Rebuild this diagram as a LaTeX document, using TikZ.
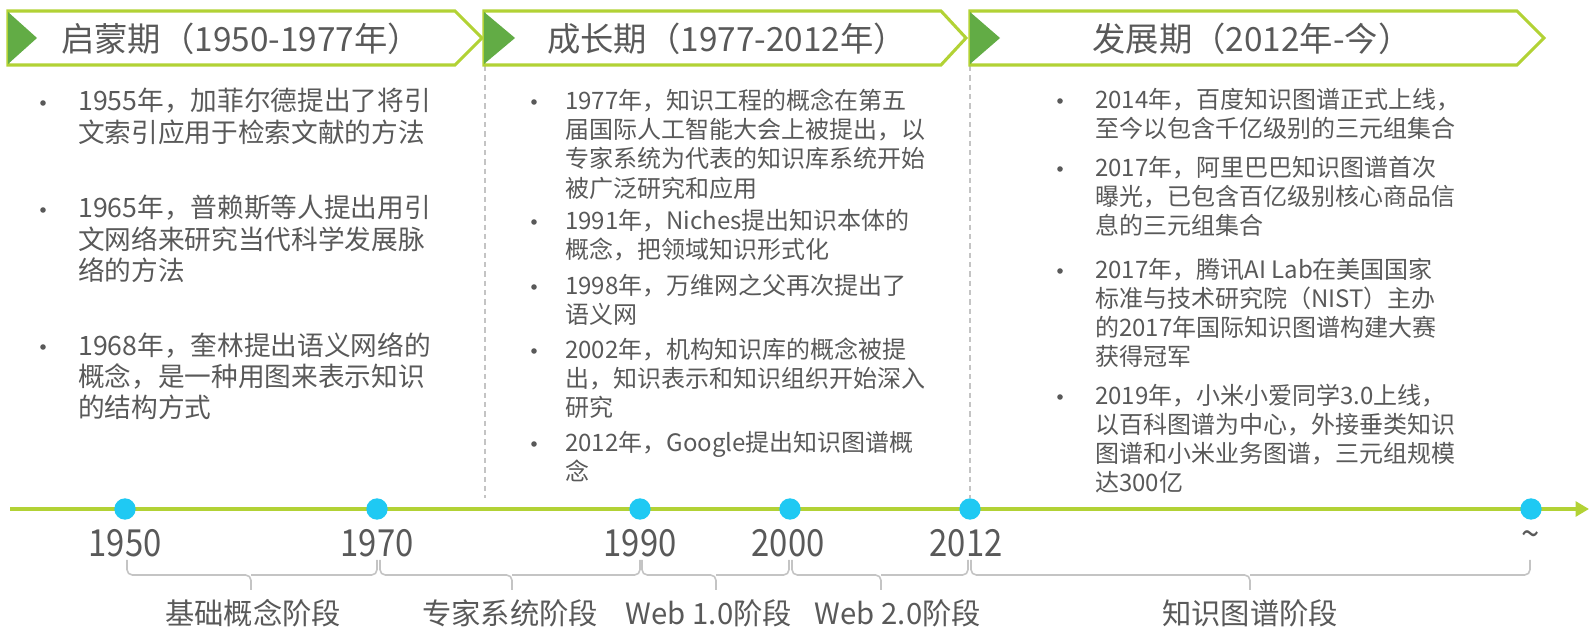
\documentclass[tikz,border=0pt]{standalone}
\usepackage{fontspec}
\setmainfont{Noto Sans CJK SC}
\usepackage{tikz}
\usetikzlibrary{arrows.meta}

\definecolor{lgreen}{HTML}{B2D235}
\definecolor{dgreen}{HTML}{62AC45}
\definecolor{dotblue}{HTML}{1FC9F3}
\definecolor{txtgray}{HTML}{595959}
\definecolor{linegray}{HTML}{C4C4C4}

\tikzset{
  banner/.style={draw=lgreen, line width=2.3pt, fill=white},
  flag/.style={fill=dgreen},
  title/.style={text=txtgray, inner sep=0pt, font=\fontsize{25}{29}\selectfont},
  itemL/.style={anchor=north west, align=left, inner sep=0pt, text=txtgray, font=\fontsize{20}{23.6}\selectfont},
  itemR/.style={anchor=north west, align=left, inner sep=0pt, text=txtgray, font=\fontsize{18}{21.8}\selectfont},
  bul/.style={circle, fill=txtgray, minimum size=4.2pt, inner sep=0pt},
  dot/.style={circle, fill=dotblue, minimum size=16pt, inner sep=0pt},
  year/.style={text=txtgray, inner sep=0pt, font=\fontsize{28}{32}\selectfont},
  stage/.style={text=txtgray, inner sep=0pt, font=\fontsize{22}{26}\selectfont},
  brk/.style={draw=linegray, line width=1.2pt, rounded corners=4pt},
  sep/.style={draw=linegray, line width=0.9pt, dash pattern=on 4pt off 3pt}
}

\begin{document}
\begin{tikzpicture}[x=0.75pt,y=0.75pt,yscale=-1,xscale=1]
\useasboundingbox (0,0) rectangle (1589,630);

% Separators
\draw[sep] (485,66) -- (485,498) ;
\draw[sep] (970,66) -- (970,498) ;

% Banners
\draw[banner] (8,11) -- (455,11) -- (482,38) -- (455,65) -- (8,65) -- cycle ;
\fill[flag] (8,12) -- (37,38) -- (8,64) -- cycle ;
\draw[banner] (484,11) -- (941,11) -- (966,38) -- (941,65) -- (484,65) -- cycle ;
\fill[flag] (484,12) -- (515,38) -- (484,64) -- cycle ;
\draw[banner] (970,11) -- (1517,11) -- (1544,38) -- (1517,65) -- (970,65) -- cycle ;
\fill[flag] (970,12) -- (1000,38) -- (970,64) -- cycle ;

% Titles
\node[title] (t1) at (241,39) {启蒙期（1950-1977年）};
\node[title] (t2) at (727,39) {成长期（1977-2012年）};
\node[title] (t3) at (1252,39) {发展期（2012年-今）};

% Left column
\node[bul] (b1) at (43,103) {};
\node[itemL] (i1) at (78,88) {1955年，加菲尔德提出了将引\\文索引应用于检索文献的方法};
\node[bul] (b2) at (43,210) {};
\node[itemL] (i2) at (78,195) {1965年，普赖斯等人提出用引\\文网络来研究当代科学发展脉\\络的方法};
\node[bul] (b3) at (43,347) {};
\node[itemL] (i3) at (78,332) {1968年，奎林提出语义网络的\\概念，是一种用图来表示知识\\的结构方式};

% Middle column
\node[bul] (b4) at (534,102) {};
\node[itemR] (i4) at (565,89) {1977年，知识工程的概念在第五\\届国际人工智能大会上被提出，以\\专家系统为代表的知识库系统开始\\被广泛研究和应用};
\node[bul] (b5) at (534,222) {};
\node[itemR] (i5) at (565,209) {1991年，Niches提出知识本体的\\概念，把领域知识形式化};
\node[bul] (b6) at (534,287) {};
\node[itemR] (i6) at (565,274) {1998年，万维网之父再次提出了\\语义网};
\node[bul] (b7) at (534,351) {};
\node[itemR] (i7) at (565,338) {2002年，机构知识库的概念被提\\出，知识表示和知识组织开始深入\\研究};
\node[bul] (b8) at (534,444) {};
\node[itemR] (i8) at (565,431) {2012年，Google提出知识图谱概\\念};

% Right column
\node[bul] (b9) at (1060,101) {};
\node[itemR] (i9) at (1095,88) {2014年，百度知识图谱正式上线，\\至今以包含千亿级别的三元组集合};
\node[bul] (b10) at (1060,169) {};
\node[itemR] (i10) at (1095,156) {2017年，阿里巴巴知识图谱首次\\曝光，已包含百亿级别核心商品信\\息的三元组集合};
\node[bul] (b11) at (1060,271) {};
\node[itemR] (i11) at (1095,258) {2017年，腾讯AI Lab在美国国家\\标准与技术研究院（NIST）主办\\的2017年国际知识图谱构建大赛\\获得冠军};
\node[bul] (b12) at (1060,397) {};
\node[itemR] (i12) at (1095,384) {2019年，小米小爱同学3.0上线，\\以百科图谱为中心，外接垂类知识\\图谱和小米业务图谱，三元组规模\\达300亿};

% Timeline
\coordinate (tl0) at (10,509);
\coordinate (tl1) at (1589,509);
\draw[lgreen, line width=3.6pt, -{Triangle[length=10pt,width=11pt]}] (tl0) -- (tl1) ;

\node[dot] (d1950) at (125,509) {};
\node[dot] (d1970) at (377,509) {};
\node[dot] (d1990) at (640,509) {};
\node[dot] (d2000) at (790,509) {};
\node[dot] (d2012) at (970,509) {};
\node[dot] (dnow) at (1531,509) {};

% Years
\node[year] (y1950) at (125,543) {\scalebox{0.88}[1]{1950}};
\node[year] (y1970) at (377,543) {\scalebox{0.88}[1]{1970}};
\node[year] (y1990) at (640,543) {\scalebox{0.88}[1]{1990}};
\node[year] (y2000) at (788,543) {\scalebox{0.88}[1]{2000}};
\node[year] (y2012) at (966,543) {\scalebox{0.88}[1]{2012}};
\node[year] (ynow) at (1531,539) {\scalebox{0.88}[1]{\textasciitilde}};

% Stage brackets
\draw[brk] (127,560) |- (251,575) -- (251,590) (251,575) -| (377,560) ;
\draw[brk] (380,560) |- (512,575) -- (512,590) (512,575) -| (640,560) ;
\draw[brk] (642,560) |- (716,575) -- (716,590) (716,575) -| (789,560) ;
\draw[brk] (792,560) |- (881,575) -- (881,590) (881,575) -| (968,560) ;
\draw[brk] (971,560) |- (1250,575) -- (1250,590) (1250,575) -| (1530,560) ;

% Stage labels
\node[stage] (s1) at (253,613) {基础概念阶段};
\node[stage] (s2) at (510,613) {专家系统阶段};
\node[stage] (s3) at (709,613) {Web 1.0阶段};
\node[stage] (s4) at (898,613) {Web 2.0阶段};
\node[stage] (s5) at (1250,613) {知识图谱阶段};

\end{tikzpicture}
\end{document}
